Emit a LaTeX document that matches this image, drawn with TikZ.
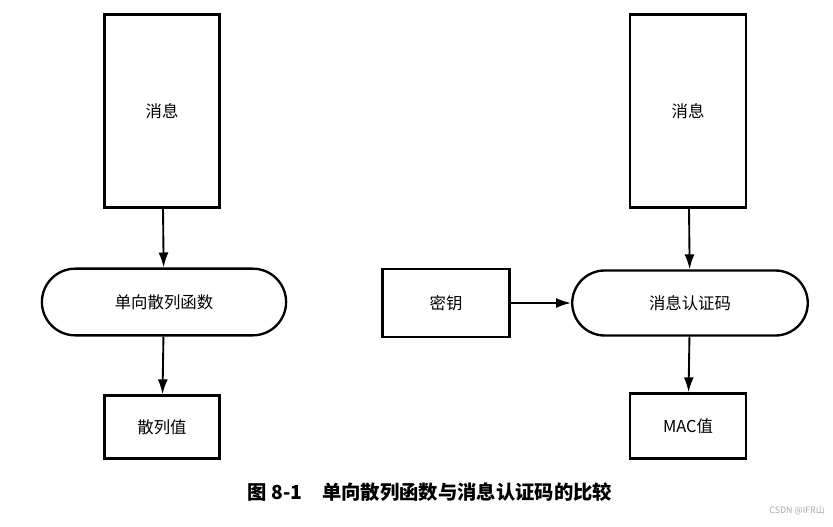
\documentclass[tikz,border=0pt]{standalone}
\usepackage{fontspec}
\setmainfont{Noto Sans CJK SC}
\usetikzlibrary{shapes.misc, arrows.meta}

\tikzset{
  box/.style={draw, line width=2pt, fill=white, font=\fontsize{14}{16}\selectfont},
  pill/.style={box, rounded rectangle},
  flow/.style={line width=1.6pt, -{Latex[length=4.5mm,width=3mm]}}
}

\begin{document}
\begin{tikzpicture}[x=0.03cm, y=-0.03cm]
  % page frame, in pixels of the reference
  \useasboundingbox (0,0) rectangle (833,526);

  % left side: one-way hash function
  \node[box, minimum width=3.45cm, minimum height=5.79cm] (msgL) at (162,111) {消息};
  \node[pill, minimum width=7.56cm, minimum height=2.0cm] (hashfn) at (164,302) {单向散列函数};
  \node[box, minimum width=3.45cm, minimum height=1.89cm] (hashval) at (162,427) {散列值};

  % right side: message authentication code
  \node[box, minimum width=3.48cm, minimum height=5.79cm] (msgR) at (688,111) {消息};
  \node[box, minimum width=3.81cm, minimum height=2.04cm] (key) at (446,303) {密钥};
  \node[pill, minimum width=7.3cm, minimum height=1.95cm] (mac) at (690,303) {消息认证码};
  \node[box, minimum width=3.48cm, minimum height=1.95cm] (macval) at (688,426) {MAC值};

  % arrows
  \draw[flow] (msgL) -- (hashfn);
  \draw[flow] (hashfn) -- (hashval);
  \draw[flow] (msgR) -- (mac);
  \draw[flow] (key) -- (mac);
  \draw[flow] (mac) -- (macval);

  % caption and watermark
  \node[font=\bfseries\fontsize{16.5}{18}\selectfont] (caption) at (430,492) {图 8-1\quad 单向散列函数与消息认证码的比较};
  \node[text=gray!70, font=\fontsize{7.5}{9}\selectfont] (mark) at (797,511) {CSDN @IFR山};
\end{tikzpicture}
\end{document}
